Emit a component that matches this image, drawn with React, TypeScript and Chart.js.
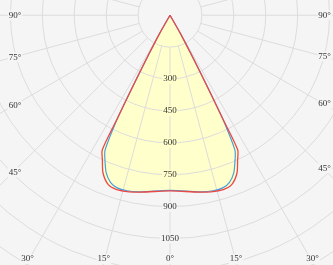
import React, { useEffect, useRef } from 'react';
import { Chart, registerables } from 'chart.js';

Chart.register(...registerables);

// Vertical angle gamma (deg, 0 = straight down) and luminous intensity (cd)
const GAMMA_C0 = [0, 5, 10, 13, 17, 20, 23, 25, 26.7, 27.0, 27.4, 27.9, 28.5, 29.6];
const INTENSITY_C0 = [826, 832, 845, 852, 857, 848, 806, 752, 708, 540, 420, 310, 205, 102];

const GAMMA_C90 = [0, 5, 10, 13.8, 17, 19.6, 22, 24.2, 25.7, 27.0, 27.4, 27.9, 28.5, 29.6];
const INTENSITY_C90 = [824, 830, 843, 850, 849, 834, 800, 746, 704, 540, 420, 310, 205, 102];

// Polar grid
const GRID_CIRCLES = [150, 300, 450, 600, 750, 900, 1050, 1200, 1350, 1500];
const RADIAL_TICKS = [300, 450, 600, 750, 900, 1050];
const ANGLE_STEP = 15;
const ANGLE_LABELS = [0, 15, 30, 45, 60, 75, 90];

// Visible window of the polar plane (cd units)
const X_MIN = -799.2;
const X_MAX = 766.3;
const Y_MIN = -1174.4;
const Y_MAX = 71.5;

const BG = '#f5f5f5';
const GRID = '#dcdcdc';
const FILL = '#ffffcc';
const RED = 'rgb(235,72,72)';
const BLUE = 'rgb(72,160,220)';
const FONT = '9px "Liberation Serif", "Times New Roman", serif';

function buildShape(gammas: number[], values: number[]) {
  const pts: { x: number; y: number }[] = [{ x: 0, y: 0 }];
  for (let i = gammas.length - 1; i >= 0; i--) {
    const g = (gammas[i] * Math.PI) / 180;
    pts.push({ x: -values[i] * Math.sin(g), y: -values[i] * Math.cos(g) });
  }
  for (let i = 1; i < gammas.length; i++) {
    const g = (gammas[i] * Math.PI) / 180;
    pts.push({ x: values[i] * Math.sin(g), y: -values[i] * Math.cos(g) });
  }
  pts.push({ x: 0, y: 0 });
  return pts;
}

type Lbl = { text: string; x: number; y: number };

function getLayout(chart: any) {
  const xs = chart.scales.x;
  const ys = chart.scales.y;
  const cx = xs.getPixelForValue(0);
  const cy = ys.getPixelForValue(0);
  const rad = (v: number) => xs.getPixelForValue(v) - cx;
  const W = chart.width;
  const H = chart.height;
  const ctx = chart.ctx;
  ctx.save();
  ctx.font = FONT;
  const labels: Lbl[] = [];
  RADIAL_TICKS.forEach((v) => labels.push({ text: String(v), x: cx, y: cy + rad(v) }));
  const bottomY = H - 6;
  const leftX = 15;
  const rightX = W - 8.5;
  ANGLE_LABELS.forEach((deg) => {
    const sides = deg === 0 ? [1] : [-1, 1];
    sides.forEach((s) => {
      const t = (deg * Math.PI) / 180;
      const xb = (H - 3 - cy) * Math.tan(t);
      const bx = cx + s * xb;
      if (deg < 90 && bx >= 13 && bx <= W - 10) {
        labels.push({ text: deg + '°', x: bx, y: bottomY });
      } else if (s < 0) {
        const dx = cx - 13;
        const y = deg === 90 ? cy : cy + dx / Math.tan(t);
        labels.push({ text: deg + '°', x: leftX, y });
      } else {
        const dx = W - 10 - cx;
        const y = deg === 90 ? cy : cy + dx / Math.tan(t);
        labels.push({ text: deg + '°', x: rightX, y });
      }
    });
  });
  const rects = labels.map((l) => {
    const w = ctx.measureText(l.text).width + 2;
    return { x: l.x - w / 2, y: l.y - 5, w, h: 10 };
  });
  ctx.restore();
  return { cx, cy, rad, labels, rects, W, H };
}

const polarGrid = {
  id: 'polarGrid',
  beforeDraw(chart: any) {
    const ctx = chart.ctx;
    ctx.save();
    ctx.fillStyle = BG;
    ctx.fillRect(0, 0, chart.width, chart.height);
    ctx.restore();
  },
  beforeDatasetsDraw(chart: any) {
    const { cx, cy, rad, rects, W, H } = getLayout(chart);
    const ctx = chart.ctx;
    ctx.save();
    ctx.beginPath();
    ctx.rect(0, 0, W, H);
    rects.forEach((r) => ctx.rect(r.x, r.y, r.w, r.h));
    ctx.clip('evenodd');
    ctx.strokeStyle = GRID;
    ctx.lineWidth = 1;
    GRID_CIRCLES.forEach((v) => {
      ctx.beginPath();
      ctx.arc(cx, cy, rad(v), 0, Math.PI * 2);
      ctx.stroke();
    });
    const r0 = rad(GRID_CIRCLES[0]);
    const r1 = rad(GRID_CIRCLES[GRID_CIRCLES.length - 1]);
    for (let a = 0; a < 360; a += ANGLE_STEP) {
      const t = (a * Math.PI) / 180;
      const sx = Math.sin(t);
      const sy = Math.cos(t);
      ctx.beginPath();
      ctx.moveTo(cx + r0 * sx, cy + r0 * sy);
      ctx.lineTo(cx + r1 * sx, cy + r1 * sy);
      ctx.stroke();
    }
    ctx.restore();
  },
  afterDatasetsDraw(chart: any) {
    const { labels } = getLayout(chart);
    const ctx = chart.ctx;
    ctx.save();
    ctx.font = FONT;
    ctx.fillStyle = '#333333';
    ctx.textAlign = 'center';
    ctx.textBaseline = 'middle';
    labels.forEach((l) => ctx.fillText(l.text, l.x, l.y));
    ctx.restore();
  },
};

export default function App() {
  const ref = useRef<HTMLCanvasElement>(null);
  useEffect(() => {
    const canvas = ref.current;
    if (!canvas) return;
    const chart = new Chart(canvas, {
      type: 'scatter',
      data: {
        datasets: [
          {
            label: 'C0-C180',
            data: buildShape(GAMMA_C0, INTENSITY_C0),
            showLine: true,
            borderColor: RED,
            backgroundColor: FILL,
            borderWidth: 1.3,
            pointRadius: 0,
            tension: 0.25,
            fill: 'shape',
          } as any,
          {
            label: 'C90-C270',
            data: buildShape(GAMMA_C90, INTENSITY_C90),
            showLine: true,
            borderColor: BLUE,
            backgroundColor: 'transparent',
            borderWidth: 1.2,
            pointRadius: 0,
            tension: 0.25,
            fill: false,
          } as any,
        ],
      },
      options: {
        responsive: false,
        animation: false,
        layout: { padding: 0 },
        plugins: {
          legend: { display: false },
          tooltip: { enabled: false },
          filler: { drawTime: 'beforeDatasetsDraw' },
        } as any,
        scales: {
          x: { type: 'linear', min: X_MIN, max: X_MAX, display: false },
          y: { type: 'linear', min: Y_MIN, max: Y_MAX, display: false },
        },
      },
      plugins: [polarGrid],
    });
    return () => chart.destroy();
  }, []);
  return (
    <div style={{ position: 'fixed', left: 0, top: 0, width: 333, height: 265, overflow: 'hidden' }}>
      <canvas ref={ref} width={333} height={265} style={{ display: 'block', width: 333, height: 265 }} />
    </div>
  );
}
